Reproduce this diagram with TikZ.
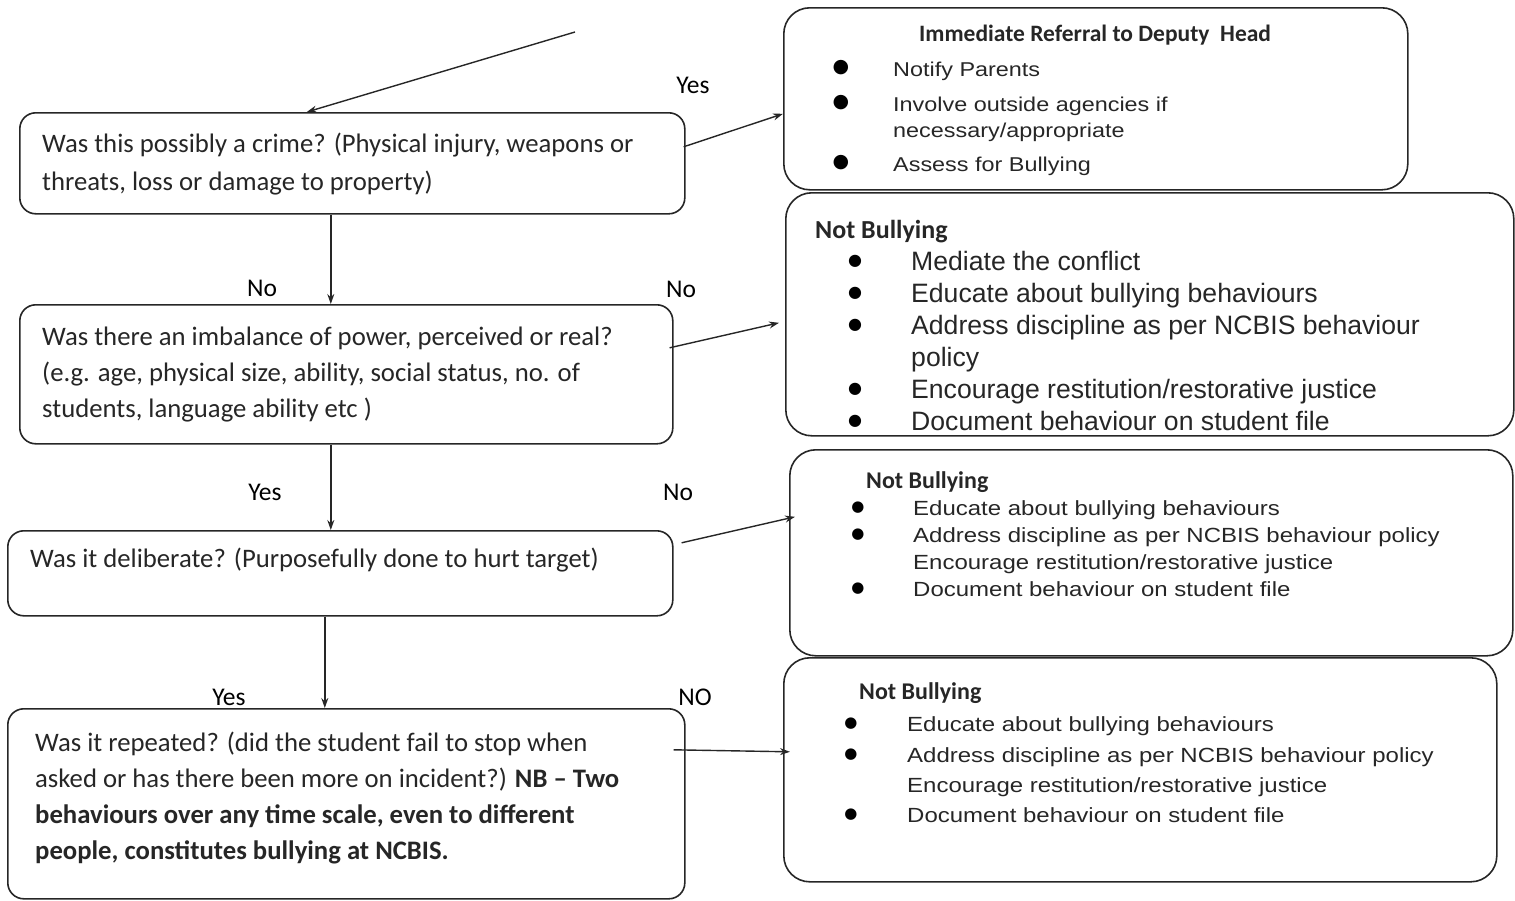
\documentclass[tikz,border=0pt]{standalone}
\usepackage{fontspec}
\setmainfont{Carlito}
\newfontfamily\arial{Liberation Sans}
\newfontfamily\arialw{Liberation Sans}[FakeStretch=1.17]
\newfontfamily\dejavu{DejaVu Sans}
\usetikzlibrary{arrows.meta}
\definecolor{ink}{HTML}{262626}
\begin{document}
\begin{tikzpicture}[x=1pt,y=-1pt,
  qbox/.style={draw=ink, line width=1.6pt, rounded corners=16pt, anchor=north west, inner sep=0pt},
  abox/.style={draw=ink, line width=1.6pt, rounded corners=26pt, anchor=north west, inner sep=0pt},
  qtxt/.style={anchor=base west, inner sep=0pt, text=ink, font=\fontsize{26.7}{30}\selectfont},
  lbl/.style={inner sep=0pt, text=black, font=\fontsize{25.5}{30}\selectfont},
  hdA/.style={anchor=base west, inner sep=0pt, text=ink, font=\fontsize{23.5}{28}\selectfont\bfseries},
  hdB/.style={anchor=base west, inner sep=0pt, text=ink, font=\fontsize{26}{30}\selectfont\bfseries},
  hdC/.style={anchor=base west, inner sep=0pt, text=ink, font=\fontsize{24}{28}\selectfont\bfseries},
  itA/.style={anchor=base west, inner sep=0pt, text=ink, font=\arialw\fontsize{20}{24}\selectfont},
  itB/.style={anchor=base west, inner sep=0pt, text=ink, font=\arial\fontsize{26.6}{30}\selectfont},
  itC/.style={anchor=base west, inner sep=0pt, text=ink, font=\arialw\fontsize{20.5}{24}\selectfont},
  bulA/.style={anchor=base, inner sep=0pt, text=black, font=\dejavu\fontsize{19}{20}\selectfont},
  bulB/.style={anchor=base, inner sep=0pt, text=black, font=\dejavu\fontsize{16}{18}\selectfont},
  bulC/.style={anchor=base, inner sep=0pt, text=black, font=\dejavu\fontsize{15}{18}\selectfont},
  arr/.style={draw=ink, line width=1.4pt, -{Stealth[length=10pt,width=7pt]}}
]
\useasboundingbox (0,0) rectangle (1515,900);

% question boxes
\node[qbox, minimum width=665pt, minimum height=101pt] (q1) at (19,112) {};
\node[qbox, minimum width=653pt, minimum height=139pt] (q2) at (19,304) {};
\node[qbox, minimum width=665pt, minimum height=85pt] (q3) at (7,530) {};
\node[qbox, minimum width=677pt, minimum height=190pt] (q4) at (7,708) {};

% answer boxes
\node[abox, minimum width=624pt, minimum height=182pt] (r1) at (783,7) {};
\node[abox, minimum width=728pt, minimum height=243pt] (r2) at (785,192) {};
\node[abox, minimum width=723pt, minimum height=206pt] (r3) at (789,449) {};
\node[abox, minimum width=713pt, minimum height=224pt] (r4) at (783,657) {};

% question texts
\node[qtxt] (q1a) at (42,152) {Was this possibly a crime? (Physical injury, weapons or};
\node[qtxt] (q1b) at (42,190) {threats, loss or damage to property)};
\node[qtxt] (q2a) at (42,345) {Was there an imbalance of power, perceived or real?};
\node[qtxt] (q2b) at (42,381) {(e.g. age, physical size, ability, social status, no. of};
\node[qtxt] (q2c) at (42,417) {students, language ability etc )};
\node[qtxt] (q3a) at (30,567) {Was it deliberate? (Purposefully done to hurt target)};
\node[qtxt] (q4a) at (35,751) {Was it repeated? (did the student fail to stop when};
\node[qtxt] (q4b) at (35,787) {asked or has there been more on incident?) \textbf{NB -- Two}};
\node[qtxt] (q4c) at (35,823) {\textbf{behaviours over any time scale, even to different}};
\node[qtxt] (q4d) at (35,859) {\textbf{people, constitutes bullying at NCBIS.}};

% answer box 1
\node[hdA] (r1h) at (919,41) {Immediate Referral to Deputy\ \ Head};
\node[bulA] (r1b1) at (841,72) {●};
\node[itA] (r1i1) at (893,76) {Notify Parents};
\node[bulA] (r1b2) at (841,107) {●};
\node[itA] (r1i2) at (893,111) {Involve outside agencies if};
\node[itA] (r1i3) at (893,137) {necessary/appropriate};
\node[bulA] (r1b3) at (841,167) {●};
\node[itA] (r1i4) at (893,171) {Assess for Bullying};

% answer box 2
\node[hdB] (r2h) at (815,238) {Not Bullying};
\node[bulB] (r2b1) at (855,265) {●};
\node[itB] (r2i1) at (911,270) {Mediate the conflict};
\node[bulB] (r2b2) at (855,297) {●};
\node[itB] (r2i2) at (911,302) {Educate about bullying behaviours};
\node[bulB] (r2b3) at (855,329) {●};
\node[itB] (r2i3) at (911,334) {Address discipline as per NCBIS behaviour};
\node[itB] (r2i4) at (911,366) {policy};
\node[bulB] (r2b4) at (855,393) {●};
\node[itB] (r2i5) at (911,398) {Encourage restitution/restorative justice};
\node[bulB] (r2b5) at (855,425) {●};
\node[itB] (r2i6) at (911,430) {Document behaviour on student file};

% answer box 3
\node[hdC] (r3h) at (866,488) {Not Bullying};
\node[bulC] (r3b1) at (858,511) {●};
\node[itC] (r3i1) at (913,515) {Educate about bullying behaviours};
\node[bulC] (r3b2) at (858,538) {●};
\node[itC] (r3i2) at (913,542) {Address discipline as per NCBIS behaviour policy};
\node[itC] (r3i3) at (913,569) {Encourage restitution/restorative justice};
\node[bulC] (r3b3) at (858,592) {●};
\node[itC] (r3i4) at (913,596) {Document behaviour on student file};

% answer box 4
\node[hdC] (r4h) at (859,699) {Not Bullying};
\node[bulC] (r4b1) at (851,727) {●};
\node[itC] (r4i1) at (907,731) {Educate about bullying behaviours};
\node[bulC] (r4b2) at (851,758) {●};
\node[itC] (r4i2) at (907,762) {Address discipline as per NCBIS behaviour policy};
\node[itC] (r4i3) at (907,792) {Encourage restitution/restorative justice};
\node[bulC] (r4b3) at (851,818) {●};
\node[itC] (r4i4) at (907,822) {Document behaviour on student file};

% labels
\node[lbl] (l1) at (693,85) {Yes};
\node[lbl] (l2) at (262,288) {No};
\node[lbl] (l3) at (681,289) {No};
\node[lbl] (l4) at (265,492) {Yes};
\node[lbl] (l5) at (678,492) {No};
\node[lbl] (l6) at (229,697) {Yes};
\node[lbl] (l7) at (695,697) {NO};

% connectors
\coordinate (start) at (575,32);
\draw[arr] (start) -- ([xshift=-45.5pt]q1.north);
\draw[arr] ([xshift=-2pt,yshift=16.5pt]q1.east) -- ([yshift=-15pt]r1.west);
\draw[arr] ([xshift=-21.5pt]q1.south) -- ([xshift=-15.5pt]q2.north);
\draw[arr] ([xshift=-4pt,yshift=26.5pt]q2.east) -- ([xshift=-6pt,yshift=-8.5pt]r2.west);
\draw[arr] ([xshift=-15.5pt]q2.south) -- ([xshift=-9.5pt]q3.north);
\draw[arr] ([xshift=8pt,yshift=30.5pt]q3.east) -- ([xshift=6pt,yshift=36pt]r3.west);
\draw[arr] ([xshift=-15.5pt]q3.south) -- ([xshift=-21.5pt]q4.north);
\draw[arr] ([xshift=-12pt,yshift=54pt]q4.east) -- ([xshift=7pt,yshift=18pt]r4.west);
\end{tikzpicture}
\end{document}
